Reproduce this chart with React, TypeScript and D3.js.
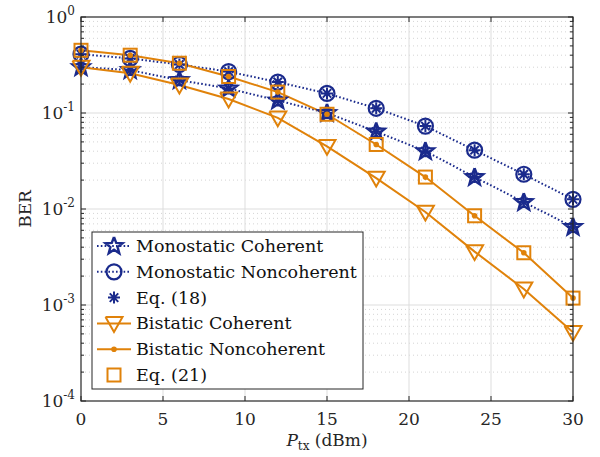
import React from "react";
import * as d3 from "d3";

const xs = [0, 3, 6, 9, 12, 15, 18, 21, 24, 27, 30];
const monoCoherent = [0.30, 0.28, 0.22, 0.18, 0.135, 0.1, 0.064, 0.04, 0.0215, 0.0118, 0.0065];
const monoNoncoherent = [0.41, 0.37, 0.32, 0.27, 0.21, 0.16, 0.112, 0.073, 0.041, 0.023, 0.0126];
const biCoherent = [0.30, 0.26, 0.196, 0.14, 0.089, 0.045, 0.021, 0.0093, 0.0036, 0.00147, 0.00052];
const biNoncoherent = [0.45, 0.40, 0.33, 0.24, 0.165, 0.097, 0.047, 0.0215, 0.0085, 0.0035, 0.00118];
const xTicks = [0, 5, 10, 15, 20, 25, 30];
const yDecades = [0, -1, -2, -3, -4];
const legendLabels = [
  "Monostatic Coherent",
  "Monostatic Noncoherent",
  "Eq. (18)",
  "Bistatic Coherent",
  "Bistatic Noncoherent",
  "Eq. (21)",
];

const W = 600, H = 457;
const L = 81, R = 573, T = 17, B = 401;
const NAVY = "#1a2a8c";
const ORANGE = "#e0820a";
const FONT = '"DejaVu Serif", "Liberation Serif", "Noto Serif", serif';

const x = d3.scaleLinear().domain([0, 30]).range([L, R]);
const y = d3.scaleLog().domain([1e-4, 1]).range([B, T]);

function starPath(cx: number, cy: number, r: number) {
  const pts: [number, number][] = [];
  const ri = r * 0.42;
  for (let i = 0; i < 10; i++) {
    const a = -Math.PI / 2 + (i * Math.PI) / 5;
    const rr = i % 2 === 0 ? r : ri;
    pts.push([cx + rr * Math.cos(a), cy + rr * Math.sin(a)]);
  }
  return d3.line()(pts.concat([pts[0]])) as string;
}
function asteriskPath(cx: number, cy: number, r: number) {
  let s = "";
  for (let i = 0; i < 4; i++) {
    const a = (i * Math.PI) / 4;
    const dx = r * Math.cos(a), dy = r * Math.sin(a);
    s += `M${cx - dx},${cy - dy}L${cx + dx},${cy + dy}`;
  }
  return s;
}
function triPath(cx: number, cy: number, r: number) {
  const pts: [number, number][] = [
    [cx - r, cy - r * 0.75],
    [cx + r, cy - r * 0.75],
    [cx, cy + r],
  ];
  return d3.line()(pts.concat([pts[0]])) as string;
}

type Mk = "star" | "circle" | "asterisk" | "tri" | "dot" | "square";
function Marker({ kind, cx, cy, color }: { kind: Mk; cx: number; cy: number; color: string }) {
  if (kind === "star") return <path d={starPath(cx, cy, 9)} fill="none" stroke={color} strokeWidth={2.4} strokeLinejoin="miter" />;
  if (kind === "circle") return <circle cx={cx} cy={cy} r={7.5} fill="none" stroke={color} strokeWidth={2.2} />;
  if (kind === "asterisk") return <path d={asteriskPath(cx, cy, 6)} stroke={color} strokeWidth={2} fill="none" />;
  if (kind === "tri") return <path d={triPath(cx, cy, 8.5)} fill="none" stroke={color} strokeWidth={2} />;
  if (kind === "dot") return <circle cx={cx} cy={cy} r={2.8} fill={color} />;
  return <rect x={cx - 6.5} y={cy - 6.5} width={13} height={13} fill="none" stroke={color} strokeWidth={2} />;
}

export default function App() {
  const line = d3
    .line<[number, number]>()
    .x((d) => x(d[0]))
    .y((d) => y(d[1]));
  const pairs = (vals: number[]) => xs.map((v, i) => [v, vals[i]] as [number, number]);

  const minor: number[] = [];
  for (let e = -4; e < 0; e++) for (let k = 2; k <= 9; k++) minor.push(k * Math.pow(10, e));

  const series = [
    { vals: monoCoherent, color: NAVY, dash: "1.6,2.2", markers: ["star", "asterisk"] as Mk[] },
    { vals: monoNoncoherent, color: NAVY, dash: "1.6,2.2", markers: ["circle", "asterisk"] as Mk[] },
    { vals: biCoherent, color: ORANGE, dash: undefined, markers: ["tri"] as Mk[] },
    { vals: biNoncoherent, color: ORANGE, dash: undefined, markers: ["square", "dot"] as Mk[] },
  ];

  const legendItems: { color: string; line: boolean; dash?: string; marker: Mk }[] = [
    { color: NAVY, line: true, dash: "1.6,2.2", marker: "star" },
    { color: NAVY, line: true, dash: "1.6,2.2", marker: "circle" },
    { color: NAVY, line: false, marker: "asterisk" },
    { color: ORANGE, line: true, marker: "tri" },
    { color: ORANGE, line: true, marker: "dot" },
    { color: ORANGE, line: false, marker: "square" },
  ];
  const lgX = 92, lgY = 232, lgW = 271, lgH = 157, rowH = 25.8;

  return (
    <svg width={W} height={H} style={{ position: "absolute", left: 0, top: 0, background: "#fff", fontFamily: FONT }}>
      <rect x={0} y={0} width={W} height={H} fill="#fff" />
      {minor.map((v, i) => (
        <line key={"mg" + i} x1={L} x2={R} y1={y(v)} y2={y(v)} stroke="#d4d4d4" strokeWidth={1} strokeDasharray="1,3" />
      ))}
      {xTicks.slice(1, -1).map((t) => (
        <line key={"gx" + t} x1={x(t)} x2={x(t)} y1={T} y2={B} stroke="#dddddd" strokeWidth={1} />
      ))}
      {yDecades.slice(1, -1).map((e) => (
        <line key={"gy" + e} x1={L} x2={R} y1={y(Math.pow(10, e))} y2={y(Math.pow(10, e))} stroke="#dddddd" strokeWidth={1} />
      ))}
      {series.map((s, i) => (
        <path key={"l" + i} d={line(pairs(s.vals)) as string} fill="none" stroke={s.color} strokeWidth={2} strokeDasharray={s.dash} />
      ))}
      {series.map((s, i) =>
        s.markers.map((m) =>
          s.vals.map((v, j) => <Marker key={`m${i}${m}${j}`} kind={m} cx={x(xs[j])} cy={y(v)} color={s.color} />)
        )
      )}
      <rect x={L} y={T} width={R - L} height={B - T} fill="none" stroke="#262626" strokeWidth={1.2} />
      {xTicks.map((t) => (
        <g key={"xt" + t}>
          <line x1={x(t)} x2={x(t)} y1={B} y2={B - 5} stroke="#262626" />
          <line x1={x(t)} x2={x(t)} y1={T} y2={T + 5} stroke="#262626" />
          <text x={x(t)} y={B + 24} textAnchor="middle" fontSize={17} fill="#262626">{t}</text>
        </g>
      ))}
      {yDecades.map((e) => (
        <g key={"yt" + e}>
          <line x1={L} x2={L + 5} y1={y(Math.pow(10, e))} y2={y(Math.pow(10, e))} stroke="#262626" />
          <line x1={R} x2={R - 5} y1={y(Math.pow(10, e))} y2={y(Math.pow(10, e))} stroke="#262626" />
          <text x={L - 6} y={y(Math.pow(10, e)) + 6} textAnchor="end" fontSize={17} fill="#262626">
            10<tspan dy={-8} fontSize={12}>{e === 0 ? "0" : "-" + -e}</tspan>
          </text>
        </g>
      ))}
      {minor.map((v, i) => (
        <g key={"ym" + i}>
          <line x1={L} x2={L + 3} y1={y(v)} y2={y(v)} stroke="#262626" />
          <line x1={R} x2={R - 3} y1={y(v)} y2={y(v)} stroke="#262626" />
        </g>
      ))}
      <text x={(L + R) / 2} y={446} textAnchor="middle" fontSize={17} fill="#262626">
        <tspan fontStyle="italic">P</tspan>
        <tspan dy={4} fontSize={12}>tx</tspan>
        <tspan dy={-4}> (dBm)</tspan>
      </text>
      <text transform={`translate(31,${(T + B) / 2}) rotate(-90)`} textAnchor="middle" fontSize={17} fill="#262626">BER</text>
      <rect x={lgX} y={lgY} width={lgW} height={lgH} fill="#fff" stroke="#262626" strokeWidth={1} />
      {legendItems.map((it, i) => {
        const cy = lgY + 14 + i * rowH;
        return (
          <g key={"lg" + i}>
            {it.line && (
              <line x1={lgX + 5} x2={lgX + 39} y1={cy} y2={cy} stroke={it.color} strokeWidth={2} strokeDasharray={it.dash} />
            )}
            <Marker kind={it.marker} cx={lgX + 22} cy={cy} color={it.color} />
            <text x={lgX + 44} y={cy + 6} fontSize={17.5} fill="#111">{legendLabels[i]}</text>
          </g>
        );
      })}
    </svg>
  );
}
